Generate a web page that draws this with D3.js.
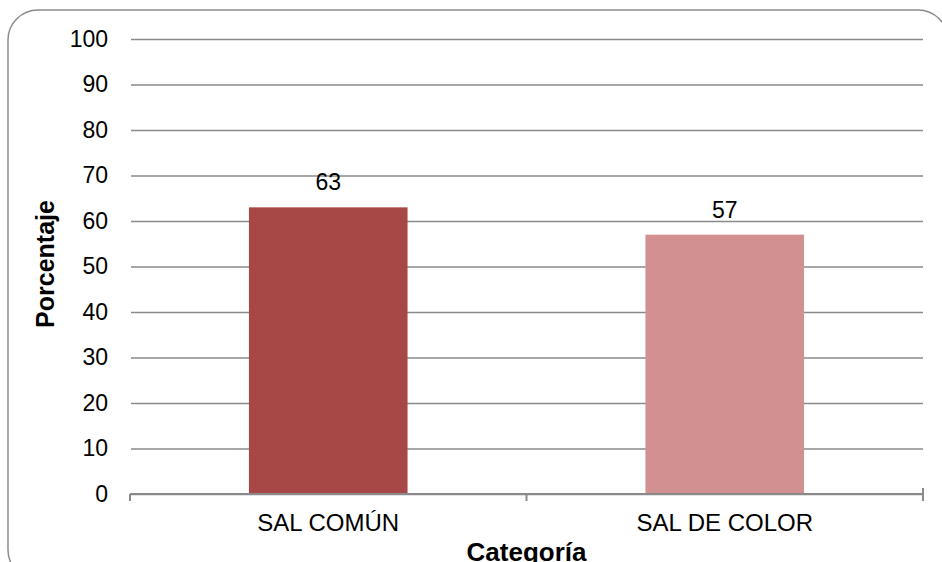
<!DOCTYPE html>
<html>
<head>
<meta charset="utf-8">
<script src="https://cdn.jsdelivr.net/npm/d3@7"></script>
<style>
  html, body { margin: 0; padding: 0; background: #fff; }
  svg { display: block; font-family: "Liberation Sans", Arial, sans-serif; }
</style>
</head>
<body>
<svg id="chart" width="942" height="562"></svg>
<script>
// Porcentaje por categoría de sal
const categories = ["SAL COMÚN", "SAL DE COLOR"];
const values = [63, 57];
const barColors = ["#A84846", "#D39091"];
const yTicks = [0, 10, 20, 30, 40, 50, 60, 70, 80, 90, 100];

const svg = d3.select("#chart");
const plot = { left: 130, right: 923, top: 39, bottom: 494 };

// Rounded frame around the chart (bottom edge falls outside the view)
svg.append("rect")
  .attr("x", 8).attr("y", 10)
  .attr("width", 940).attr("height", 570)
  .attr("rx", 30).attr("ry", 30)
  .attr("fill", "#fff")
  .attr("stroke", "#8c8c8c")
  .attr("stroke-width", 1.5);

const x = d3.scaleBand()
  .domain(categories)
  .range([plot.left, plot.right])
  .paddingInner(0.6)
  .paddingOuter(0.3);

const y = d3.scaleLinear()
  .domain([0, 100])
  .range([plot.bottom, plot.top]);

// Horizontal gridlines with value labels
const yAxis = d3.axisLeft(y)
  .tickValues(yTicks)
  .tickSize(-(plot.right - plot.left - 1))
  .tickPadding(23)
  .tickFormat(d3.format("d"));

const gy = svg.append("g")
  .attr("transform", `translate(${plot.left + 1},0)`)
  .call(yAxis);
gy.select(".domain").remove();
gy.selectAll(".tick line")
  .attr("stroke", "#8a8a8a")
  .attr("stroke-width", 1.5);
gy.selectAll(".tick text")
  .attr("fill", "#000")
  .style("font-size", "23px");

// Bars
svg.append("g").selectAll("rect")
  .data(values)
  .join("rect")
  .attr("x", (d, i) => x(categories[i]))
  .attr("y", d => y(d))
  .attr("width", x.bandwidth())
  .attr("height", d => y(0) - y(d))
  .attr("fill", (d, i) => barColors[i]);

// Value labels above the bars
svg.append("g").selectAll("text")
  .data(values)
  .join("text")
  .attr("x", (d, i) => x(categories[i]) + x.bandwidth() / 2)
  .attr("y", d => y(d) - 17)
  .attr("text-anchor", "middle")
  .style("font-size", "23px")
  .attr("fill", "#000")
  .text(d => d);

// Category axis along the bottom
const step = (plot.right - plot.left) / categories.length;
const boundaries = d3.range(categories.length + 1).map(i => plot.left + i * step);

svg.append("line")
  .attr("x1", plot.left).attr("x2", plot.right)
  .attr("y1", plot.bottom).attr("y2", plot.bottom)
  .attr("stroke", "#8a8a8a").attr("stroke-width", 2);

svg.append("g").selectAll("line")
  .data(boundaries)
  .join("line")
  .attr("x1", d => d).attr("x2", d => d)
  .attr("y1", (d, i) => i === boundaries.length - 1 ? plot.bottom - 6 : plot.bottom)
  .attr("y2", plot.bottom + 7)
  .attr("stroke", "#8a8a8a").attr("stroke-width", 2);

svg.append("g").selectAll("text")
  .data(categories)
  .join("text")
  .attr("x", d => x(d) + x.bandwidth() / 2)
  .attr("y", 531)
  .attr("text-anchor", "middle")
  .style("font-size", "24px")
  .attr("fill", "#000")
  .text(d => d);

// Axis titles
svg.append("text")
  .attr("x", (plot.left + plot.right) / 2)
  .attr("y", 561)
  .attr("text-anchor", "middle")
  .style("font-size", "26px")
  .style("font-weight", "bold")
  .text("Categoría");

svg.append("text")
  .attr("transform", `translate(54,264) rotate(-90)`)
  .attr("text-anchor", "middle")
  .style("font-size", "25px")
  .style("font-weight", "bold")
  .text("Porcentaje");
</script>
</body>
</html>
